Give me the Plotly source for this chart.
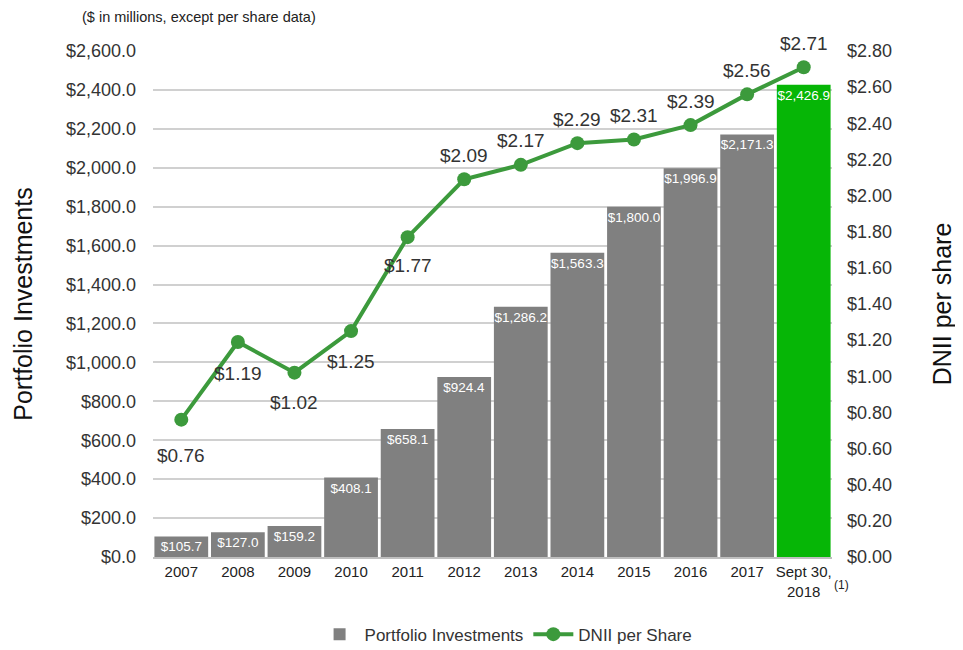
import plotly.graph_objects as go

# Data
periods = ["2007", "2008", "2009", "2010", "2011", "2012", "2013",
           "2014", "2015", "2016", "2017", "Sept 30,<br>2018"]
portfolio = [105.7, 127.0, 159.2, 408.1, 658.1, 924.4, 1286.2,
             1563.3, 1800.0, 1996.9, 2171.3, 2426.9]
dnii = [0.76, 1.19, 1.02, 1.25, 1.77, 2.09, 2.17, 2.29, 2.31, 2.39, 2.56, 2.71]

FONT = "Liberation Sans, Arial, sans-serif"
GRAY = "#808080"
GREEN_BAR = "#06b606"
GREEN_LINE = "#3c9a3c"

bar_colors = [GRAY] * (len(periods) - 1) + [GREEN_BAR]
bar_labels = ["${:,.1f}".format(v) for v in portfolio]
line_labels = ["${:.2f}".format(v) for v in dnii]
# first five labels sit under the line, the rest above it
label_shift = [-36, -32, -30, -30, -28] + [24] * 7

fig = go.Figure()

fig.add_trace(go.Bar(
    x=periods,
    y=portfolio,
    name="Portfolio Investments",
    marker=dict(color=bar_colors, line=dict(width=0)),
    text=bar_labels,
    textposition="inside",
    insidetextanchor="end",
    textangle=0,
    constraintext="none",
    textfont=dict(color="white", size=13.5, family=FONT),
    yaxis="y",
))

fig.add_trace(go.Scatter(
    x=periods,
    y=dnii,
    name="DNII per Share",
    mode="lines+markers",
    line=dict(color=GREEN_LINE, width=4),
    marker=dict(color=GREEN_LINE, size=14),
    cliponaxis=False,
    yaxis="y2",
))

# category index as x, year strings would be read as numbers
for i, (v, lab, dy) in enumerate(zip(dnii, line_labels, label_shift)):
    fig.add_annotation(
        x=i, y=v, xref="x", yref="y2",
        text=lab, showarrow=False, yshift=dy,
        font=dict(size=19, color="#333333", family=FONT),
    )

# the html page has an 8px body margin, so the figure is drawn 8px smaller
fig.update_layout(
    width=955,
    height=642,
    margin=dict(l=145, r=131, t=43, b=93),
    plot_bgcolor="white",
    paper_bgcolor="white",
    font=dict(family=FONT, color="#333333"),
    bargap=0.05,
    showlegend=True,
    legend=dict(
        orientation="h",
        x=0.52, xanchor="center",
        yref="container",
        y=0.024, yanchor="middle",
        font=dict(size=17, color="#333333"),
        itemwidth=40,
        tracegroupgap=0,
    ),
    xaxis=dict(
        automargin=False,
        type="category",
        range=[-0.5, 11.5],
        showgrid=False,
        showline=True,
        linecolor="#bfbfbf",
        linewidth=2,
        tickfont=dict(size=15, color="#222222"),
        ticks="",
    ),
    yaxis=dict(
        automargin=False,
        title=dict(text="Portfolio Investments", font=dict(size=25, color="#111111"), standoff=26),
        range=[0, 2600],
        dtick=200,
        tickformat="$,.1f",
        tickfont=dict(size=18, color="#333333"),
        ticklabelstandoff=16,
        showgrid=True,
        gridcolor="#d0d0d0",
        gridwidth=2,
        zeroline=False,
        ticks="",
    ),
    yaxis2=dict(
        automargin=False,
        title=dict(text="DNII per share", font=dict(size=25, color="#111111"), standoff=42),
        overlaying="y",
        side="right",
        range=[0, 2.8],
        dtick=0.2,
        tickformat="$.2f",
        tickfont=dict(size=18, color="#333333"),
        ticklabelstandoff=14,
        showgrid=False,
        zeroline=False,
        ticks="",
    ),
)

fig.add_annotation(
    text="($ in millions, except per share data)",
    xref="paper", yref="paper",
    x=-0.1075, y=1.067, xanchor="left", yanchor="middle",
    showarrow=False,
    font=dict(size=14.5, color="#222222"),
)
fig.add_annotation(
    text="(1)",
    xref="paper", yref="paper",
    x=1.0, y=-0.055, xanchor="left", yanchor="middle",
    showarrow=False,
    font=dict(size=12, color="#222222"),
)

fig.write_html("out.html")
